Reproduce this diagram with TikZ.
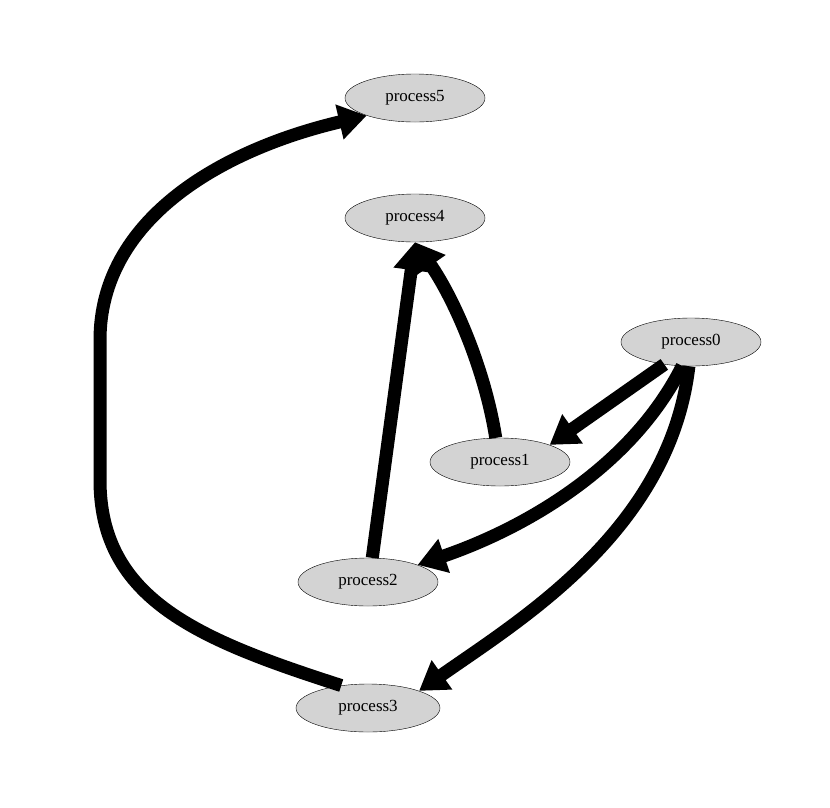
\documentclass[tikz,border=0pt]{standalone}
\usepackage{fontspec}
\setmainfont{Liberation Serif}
\usetikzlibrary{arrows.meta,shapes.geometric}
\begin{document}
\begin{tikzpicture}[x=1pt,y=-1pt,
  proc/.style={ellipse,draw=black,fill={rgb,255:red,211;green,211;blue,211},minimum width=140pt,minimum height=48pt,inner sep=0pt,font=\fontsize{17}{20}\selectfont},
  edge/.style={line width=13pt,-{Triangle[length=28pt,width=34pt]}}]
\useasboundingbox (0,0) rectangle (830,807);
\node[proc] (p5) at (415,98) {process5};
\node[proc] (p4) at (415,218) {process4};
\node[proc] (p0) at (691,342) {process0};
\node[proc] (p1) at (500,462) {process1};
\node[proc] (p2) at (368,582) {process2};
\node[proc,minimum width=144pt] (p3) at (368,708) {process3};
\draw[edge] (p0.220) -- (p1.north east);
\draw[edge] (p0.250) .. controls (630,470) and (520,530) .. (p2.north east);
\draw[edge] (p0.265) .. controls (670,530) and (520,620) .. (p3.north east);
\draw[edge] (p1.100) .. controls (485,370) and (455,300) .. (p4.south);
\draw[edge] (p2.80) -- (p4.south);
\draw[edge] (p3.140) .. controls (200,640) and (100,600) .. (100,480) -- (100,340) .. controls (100,220) and (220,150) .. (p5.200);
\end{tikzpicture}
\end{document}
